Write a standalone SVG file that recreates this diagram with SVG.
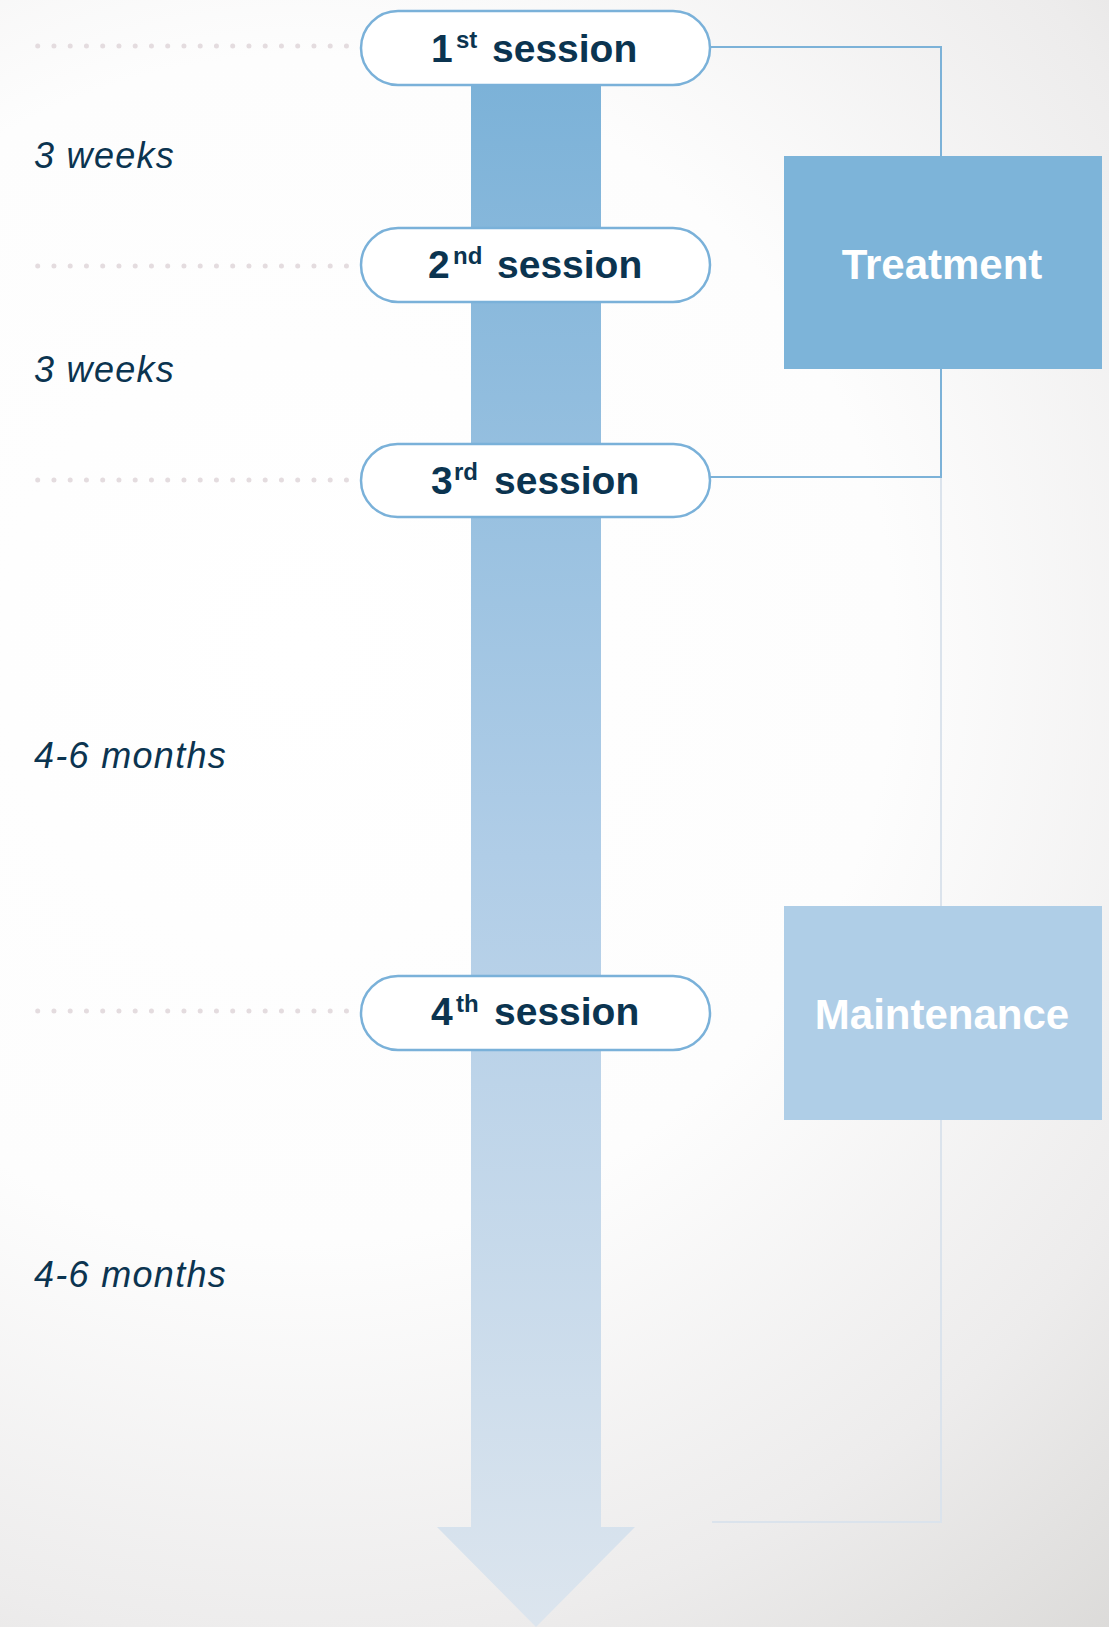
<svg xmlns="http://www.w3.org/2000/svg" width="1109" height="1627" viewBox="0 0 1109 1627">
  <defs>
    <radialGradient id="bg" gradientUnits="userSpaceOnUse" cx="300" cy="650" r="1320">
      <stop offset="0" stop-color="#ffffff"/>
      <stop offset="0.45" stop-color="#fdfdfd"/>
      <stop offset="0.75" stop-color="#edecec"/>
      <stop offset="1" stop-color="#d9d8d6"/>
    </radialGradient>
    <linearGradient id="shaft" gradientUnits="userSpaceOnUse" x1="0" y1="85" x2="0" y2="1627">
      <stop offset="0" stop-color="#7cb2d8"/>
      <stop offset="0.5" stop-color="#b0cde7"/>
      <stop offset="1" stop-color="#dce5ee"/>
    </linearGradient>
    <style>
      .pill { fill: #ffffff; stroke: #7ab1d9; stroke-width: 2.5; }
      .lbl { font-family: "Liberation Sans", Arial, sans-serif; font-weight: bold; fill: #0b3450; }
      .main { font-size: 39px; }
      .sup { font-size: 24px; }
      .span { font-family: "Liberation Sans", Arial, sans-serif; font-style: italic; font-size: 36px; letter-spacing: 1.3px; fill: #0b3450; }
      .dots { stroke: #e4dcdf; stroke-width: 5; stroke-linecap: round; stroke-dasharray: 0 16.25; fill: none; }
      .phase { font-family: "Liberation Sans", Arial, sans-serif; font-weight: bold; font-size: 42px; fill: #ffffff; text-anchor: middle; }
    </style>
  </defs>

  <!-- background -->
  <rect x="0" y="0" width="1109" height="1627" fill="url(#bg)"/>

  <!-- timeline arrow -->
  <g id="timeline">
    <path d="M471 85 H601 V1527 H635 L536 1627 L437 1527 H471 Z" fill="url(#shaft)"/>
  </g>

  <!-- connectors: brackets and dotted guides -->
  <g id="connectors">
    <polyline points="710,47 941,47 941,477 710,477" fill="none" stroke="#7cb2d8" stroke-width="2"/>
    <polyline points="941,478 941,1522 712,1522" fill="none" stroke="#dbe3ec" stroke-width="2"/>
    <line class="dots" x1="37.7" y1="46" x2="347" y2="46"/>
    <line class="dots" x1="37.7" y1="266" x2="347" y2="266"/>
    <line class="dots" x1="37.7" y1="480" x2="347" y2="480"/>
    <line class="dots" x1="37.7" y1="1011" x2="347" y2="1011"/>
  </g>

  <!-- interval labels -->
  <g id="intervals">
    <text class="span" x="34" y="168">3 weeks</text>
    <text class="span" x="34" y="382">3 weeks</text>
    <text class="span" x="34" y="768">4-6 months</text>
    <text class="span" x="34" y="1287">4-6 months</text>
  </g>

  <!-- sessions -->
  <g id="session-1">
    <rect class="pill" x="361" y="11" width="349" height="74" rx="37"/>
    <text class="lbl main"><tspan x="431" y="62">1</tspan><tspan class="sup" x="456" y="48">st</tspan><tspan x="492" y="62">session</tspan></text>
  </g>
  <g id="session-2">
    <rect class="pill" x="361" y="228" width="349" height="74" rx="37"/>
    <text class="lbl main"><tspan x="428" y="278">2</tspan><tspan class="sup" x="453" y="264">nd</tspan><tspan x="497" y="278">session</tspan></text>
  </g>
  <g id="session-3">
    <rect class="pill" x="361" y="444" width="349" height="73" rx="36.5"/>
    <text class="lbl main"><tspan x="431" y="494">3</tspan><tspan class="sup" x="454" y="480">rd</tspan><tspan x="494" y="494">session</tspan></text>
  </g>
  <g id="session-4">
    <rect class="pill" x="361" y="976" width="349" height="74" rx="37"/>
    <text class="lbl main"><tspan x="431" y="1025">4</tspan><tspan class="sup" x="456" y="1012">th</tspan><tspan x="494" y="1025">session</tspan></text>
  </g>

  <!-- phases -->
  <g id="treatment">
    <rect x="784" y="156" width="318" height="213" fill="#7db4d9"/>
    <text class="phase" x="942" y="279">Treatment</text>
  </g>
  <g id="maintenance">
    <rect x="784" y="906" width="318" height="214" fill="#afcee7"/>
    <text class="phase" x="942" y="1029">Maintenance</text>
  </g>
</svg>
